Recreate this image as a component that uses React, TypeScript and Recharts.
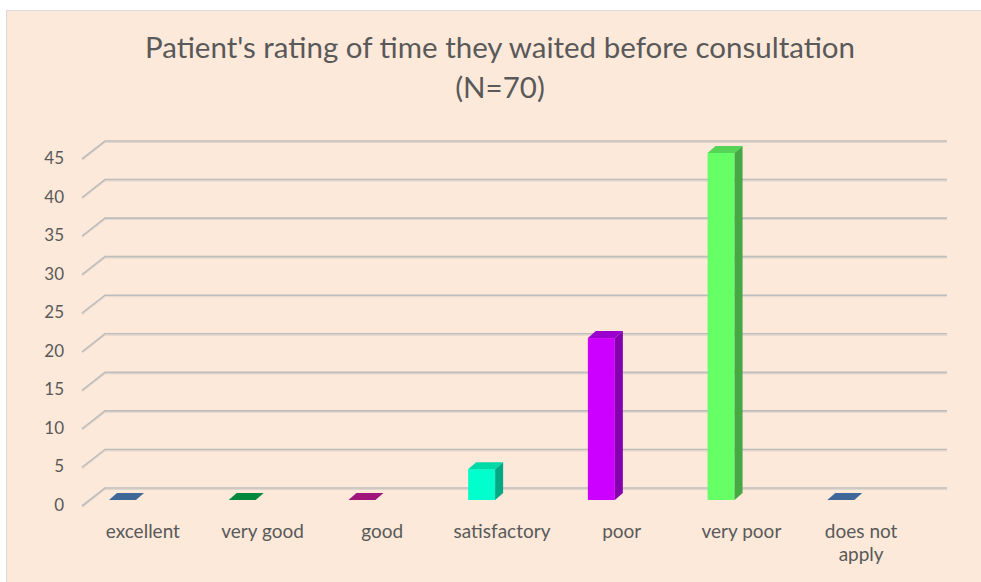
import React from 'react';
import { BarChart, Bar, XAxis, YAxis, CartesianGrid } from 'recharts';

const categories = ['excellent', 'very good', 'good', 'satisfactory', 'poor', 'very poor', 'does not apply'];
const counts = [0, 0, 0, 4, 21, 45, 0];
const yTicks = [0, 5, 10, 15, 20, 25, 30, 35, 40, 45];
const titleLine1 = "Patient's rating of time they waited before consultation";
const titleLine2 = '(N=70)';

const palette = [
  { front: '#3F6898', top: '#3A6192', side: '#2F5280' },
  { front: '#00883F', top: '#007F3A', side: '#006A30' },
  { front: '#A0157C', top: '#9A1277', side: '#7E0E61' },
  { front: '#00FFCC', top: '#00D9A8', side: '#00A884' },
  { front: '#CC00FF', top: '#9C00CC', side: '#8400AE' },
  { front: '#66FF66', top: '#55D455', side: '#45A845' },
  { front: '#3F6898', top: '#3A6192', side: '#2F5280' },
];

const data = categories.map((category, i) => ({ category, count: counts[i] }));

const FONT = 'Lato, "Open Sans", sans-serif';
const TEXT = '#595959';
const DX = 8;
const DY = -7;
const SHIFT = -20;

const GridLine = (props: any) => {
  const { x1, y1, x2 } = props;
  const fx = x1 - 1;
  const bx = fx + 23;
  const fy = y1 + 6;
  const by = y1 - 12;
  const ex = x2 + 26;
  return (
    <g key={props.key}>
      <polyline points={`${fx},${fy + 1.5} ${bx},${by + 1.5} ${ex},${by + 1.5}`} fill="none" stroke="#E2D6CC" strokeWidth={1} />
      <polyline points={`${fx},${fy} ${bx},${by} ${ex},${by}`} fill="none" stroke="#BDBDBD" strokeWidth={1.6} />
    </g>
  );
};

const Bar3D = (props: any) => {
  const { x, y, width, height, index } = props;
  const c = palette[index % palette.length];
  const fx = x + SHIFT;
  const w = width;
  const h = Math.max(0, height || 0);
  const top = `${fx},${y} ${fx + w},${y} ${fx + w + DX},${y + DY} ${fx + DX},${y + DY}`;
  if (h < 1) {
    return <polygon points={top} fill={c.front} />;
  }
  const side = `${fx + w},${y} ${fx + w + DX},${y + DY} ${fx + w + DX},${y + h + DY} ${fx + w},${y + h}`;
  return (
    <g>
      <rect x={fx} y={y} width={w} height={h} fill={c.front} />
      <polygon points={top} fill={c.top} />
      <polygon points={side} fill={c.side} />
    </g>
  );
};

const YTick = (props: any) => {
  const { x, y, payload } = props;
  return (
    <text x={x - 19} y={y + 11} textAnchor="end" fontFamily={FONT} fontSize={17} fill={TEXT}>
      {payload.value}
    </text>
  );
};

const XTick = (props: any) => {
  const { x, y, payload } = props;
  const label: string = payload.value;
  let lines = [label];
  if (label.length > 12) {
    const idx = label.lastIndexOf(' ');
    lines = [label.slice(0, idx), label.slice(idx + 1)];
  }
  return (
    <text textAnchor="middle" fontFamily={FONT} fontSize={19} fill={TEXT}>
      {lines.map((l, i) => (
        <tspan key={i} x={x} y={y + 38 + i * 23}>{l}</tspan>
      ))}
    </text>
  );
};

export default function App() {
  return (
    <div style={{ position: 'absolute', left: 0, top: 0, width: 981, height: 582, background: '#ffffff', overflow: 'hidden' }}>
      <div style={{ position: 'absolute', left: 6, top: 10, width: 1000, height: 600, background: '#FDE9D9', border: '1.5px solid #D9D9D9', boxSizing: 'border-box' }} />
      <div style={{ position: 'absolute', left: 0, top: 0 }}>
        <BarChart width={981} height={582} data={data} margin={{ top: 153, right: 60, bottom: 52, left: 23 }}>
          <CartesianGrid vertical={false} horizontal={GridLine as any} />
          <XAxis dataKey="category" height={30} axisLine={false} tickLine={false} tickSize={0} tickMargin={0} interval={0} tick={<XTick />} />
          <YAxis width={60} domain={[0, 45]} ticks={yTicks} axisLine={false} tickLine={false} tickSize={0} tickMargin={0} tick={<YTick />} />
          <Bar dataKey="count" barSize={27} isAnimationActive={false} shape={<Bar3D />} />
        </BarChart>
      </div>
      <svg width={981} height={120} style={{ position: 'absolute', left: 0, top: 0 }}>
        <text x={500} y={58} textAnchor="middle" fontFamily={FONT} fontSize={29.5} fill={TEXT}>{titleLine1}</text>
        <text x={500} y={98} textAnchor="middle" fontFamily={FONT} fontSize={29.5} fill={TEXT}>{titleLine2}</text>
      </svg>
    </div>
  );
}
